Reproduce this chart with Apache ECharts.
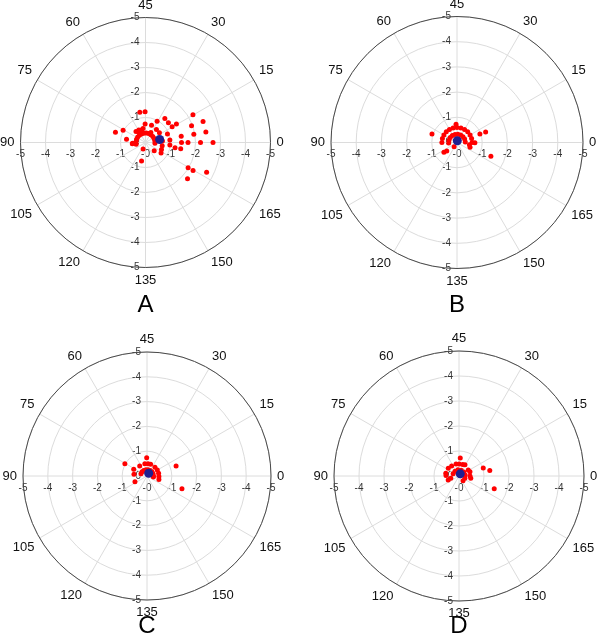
<!DOCTYPE html>
<html><head><meta charset="utf-8">
<script src="https://cdn.jsdelivr.net/npm/echarts@6/dist/echarts.min.js"></script>
<style>html,body{margin:0;padding:0;background:#fff}#c{width:600px;height:636px}</style>
</head><body><div id="c"></div>
<script>
// ---- data ([angle, radius]) ----
const angleMin = 0, angleMax = 180, angleStep = 15;
const radiusMin = 0, radiusMax = 5, radiusStep = 1;
const panelNames = ['A', 'B', 'C', 'D'];

const redA = [
  [50.3,1.23],[45.4,1.23],[80.6,1.27],[75.7,1.02],[45.6,0.74],[35.4,0.73],[30.7,0.97],[25.5,1.23],
  [20.4,1.21],[15.4,1.24],[15.4,1.44],[15.2,2.2],[10,2.45],[10,1.96],[4.8,1.96],[4.9,2.45],[4.9,1.45],
  [0,1.7],[0,1.44],[175,1.43],[0,2.2],[0,2.7],[10.5,0.94],[2.9,0.98],[177,0.98],[175,1.2],
  [164.7,1.98],[164.7,2.21],[167,2.72],[159.6,2.22],[125,0.28],[129,0.76],[85.2,0.77],[91.8,0.52],
  [92.7,0.53],[158.2,0.48],[30.8,0.45],[62,0.52],[53.9,0.52],
  [95,0.38],[87.5,0.38],[80,0.38],[72.5,0.38],[65,0.38],[57.5,0.38],[50,0.38],[42.5,0.38],
  [35,0.38],[27.5,0.38],[20,0.38],[12.5,0.38],[5,0.38],[177.5,0.38],
  [25,0.68],[17.5,0.68],[2.5,0.68],[174.5,0.68],[168,0.7],[163,0.75],[50,0.57],[59,0.57],[65.5,0.58]
];
const blueA = [[6,0.58]];

const redB = [
  [46.5,0.73],[80.5,1.05],[10.3,0.97],[10,1.21],[179.5,0.71],[169,1.45],[110,0.53],[108.5,0.65],
  [175,0.5],[170,0.55],[117.5,0.2],
  [92,0.33],[82,0.33],[72,0.33],[62,0.33],[52,0.33],[42,0.33],[32,0.33],[22,0.33],[12,0.33],[2,0.33],
  [90,0.6],[82.5,0.6],[75,0.6],[67.5,0.6],[60,0.6],[52.5,0.6],[45,0.6],[37.5,0.6],[30,0.6],
  [22.5,0.6],[15,0.6],[7.5,0.6],[0,0.6]
];
const blueB = [[40,0.07]];

const redC = [
  [45.5,0.74],[75.5,1.02],[9.5,1.24],[170,1.5],[103,0.54],[86,0.53],[76.5,0.6],[63,0.5],
  [50,0.5],[42.5,0.5],[36.5,0.5],[24,0.48],[15,0.48],[6.5,0.48],[178.5,0.48],[172,0.5],
  [80,0.26],[70,0.26],[60,0.26],[50,0.26],[40,0.26],[30,0.26],[20,0.26],[10,0.26],[0,0.26],[175,0.26]
];
const blueC = [[29,0.13]];

const redD = [
  [43,0.72],[63,0.5],[72,0.53],[84,0.54],[89,0.52],[9,1.02],[5,1.25],[170,1.5],[16.5,0.44],
  [10.5,0.47],[0,0.44],[174.5,0.48],[97.5,0.34],[100,0.46],
  [52,0.49],[44.5,0.48],[36,0.48],[31,0.51],
  [80,0.25],[65,0.25],[50,0.25],[35,0.25],[20,0.25],[5,0.25],[170,0.25],[155,0.25]
];
const blueD = [[30,0.1]];

const reds = [redA, redB, redC, redD];
const blues = [blueA, blueB, blueC, blueD];

// ---- layout ----
const layout = [
  {cx: 145.5, cy: 142.5, r: 125, ly: 305},
  {cx: 457,   cy: 142.5, r: 126, ly: 305},
  {cx: 147,   cy: 476,   r: 124, ly: 626},
  {cx: 459,   cy: 476,   r: 125, ly: 626}
];
const FONT = 'Liberation Sans, Arial, sans-serif';
const dirs = [
  {start: 0,   fmt: v => '-' + v,                  margin: -7, align: 'center', va: 'top'},
  {start: 90,  fmt: v => v === 0 ? '0' : '-' + v,  margin: 6,  align: 'right',  va: 'middle'},
  {start: 180, fmt: v => v === 0 ? '' : '-' + v,   margin: 7,  align: 'center', va: 'top'},
  {start: 270, fmt: v => v === 0 ? '' : '-' + v,   margin: -6, align: 'right',  va: 'middle'}
];

const polar = [], angleAxis = [], radiusAxis = [], series = [], graphic = [];
layout.forEach((L, i) => {
  dirs.forEach((d, j) => {
    const k = i * 4 + j;
    polar.push({center: [L.cx, L.cy], radius: L.r});
    angleAxis.push({
      polarIndex: k, type: 'value', min: angleMin, max: angleMax, interval: angleStep,
      startAngle: d.start, clockwise: false, show: j === 0, z: 2,
      axisLine: {show: true, lineStyle: {color: '#4a4a4a', width: 1}},
      axisTick: {show: false},
      splitLine: {show: true, lineStyle: {color: '#dcdcdc', width: 1}},
      axisLabel: {show: true, margin: 6, fontSize: 13, color: '#111', fontFamily: FONT,
        formatter: v => v === angleMax ? '' : String(v)}
    });
    radiusAxis.push({
      polarIndex: k, type: 'value', min: radiusMin, max: radiusMax, interval: radiusStep, z: 1,
      axisLine: {show: false}, axisTick: {show: false},
      splitLine: {show: j === 0, lineStyle: {color: '#dcdcdc', width: 1}},
      axisLabel: {show: true, fontSize: 10, color: '#333', fontFamily: FONT,
        margin: d.margin, align: d.align, verticalAlign: d.va,
        showMinLabel: true, showMaxLabel: true, formatter: d.fmt}
    });
  });
  series.push({
    type: 'scatter', coordinateSystem: 'polar', polarIndex: i * 4,
    symbolSize: 5, itemStyle: {color: '#ff0000', opacity: 1}, z: 3,
    data: reds[i].map(p => [p[1], p[0]])
  });
  series.push({
    type: 'scatter', coordinateSystem: 'polar', polarIndex: i * 4,
    symbolSize: 9, itemStyle: {color: '#1f1f8f', opacity: 1}, z: 4,
    data: blues[i].map(p => [p[1], p[0]])
  });
  graphic.push({type: 'text', x: L.cx, y: L.ly,
    style: {text: panelNames[i], fontSize: 24, fontFamily: FONT, fill: '#000',
      align: 'center', verticalAlign: 'middle'}});
});

const chart = echarts.init(document.getElementById('c'), null, {renderer: 'canvas'});
chart.setOption({animation: false, backgroundColor: '#fff', polar, angleAxis, radiusAxis, series, graphic});
</script></body></html>
